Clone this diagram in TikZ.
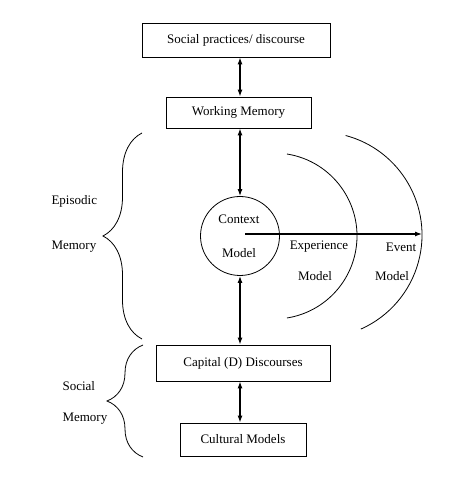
\documentclass[tikz,border=0pt]{standalone}
\usepackage{fontspec}
\setmainfont{Liberation Serif}
\usetikzlibrary{arrows.meta, decorations.pathreplacing}

\begin{document}
\begin{tikzpicture}[x=1pt, y=1pt, font=\fontsize{13}{15}\selectfont,
    boxnode/.style={draw, line width=0.8pt, inner sep=0pt},
    dbl/.style={{Latex[length=7pt,width=5pt]}-{Latex[length=7pt,width=5pt]}, line width=1.2pt},
    bracenode/.style={decorate, decoration={brace, amplitude=#1}, line width=0.8pt}]
  \useasboundingbox (0,0) rectangle (474,478);
  % Boxes and the context model
  \node[boxnode, minimum width=188pt, minimum height=34pt] (sp) at (236,438) {Social practices/ discourse};
  \node[boxnode, minimum width=145pt, minimum height=31pt] (wm) at (238.5,365.5) {Working Memory};
  \node[draw, circle, line width=0.8pt, minimum size=79pt] (ctx) at (240,242) {};
  \node (ctxa) at (239,259) {Context};
  \node (ctxb) at (239,225) {Model};
  \node[boxnode, minimum width=174pt, minimum height=36pt] (cd) at (243,115) {Capital (D) Discourses};
  \node[boxnode, minimum width=126pt, minimum height=33pt] (cm) at (243,38.5) {Cultural Models};
  % Vertical double arrows
  \foreach \a/\b in {sp/wm, wm/ctx, ctx/cd, cd/cm}{
    \draw[dbl] (\a.south -| ctx.center) -- (\b.north -| ctx.center);
  }
  % Arcs and the horizontal arrow
  \draw[line width=0.8pt] (274,242) ++(81:83) arc[start angle=81, end angle=-81, radius=83];
  \draw[line width=0.8pt] (319,243) ++(75:103) arc[start angle=75, end angle=-66, radius=103];
  \coordinate (evtend) at (422,244);
  \draw[-{Latex[length=7pt,width=5pt]}, line width=1.2pt] (245,244) -- (evtend);
  \node (expa) at (319,231) {Experience};
  \node (expb) at (315,202) {Model};
  \node (evta) at (401,231) {Event};
  \node (evtb) at (392,202) {Model};
  % Braces on the left
  \draw[bracenode=39pt] (142,139) -- (142,345);
  \node[anchor=west] (epa) at (48,277) {Episodic};
  \node[anchor=west] (epb) at (48,231) {Memory};
  \draw[bracenode=36pt] (143,21) -- (143,133);
  \node[anchor=west] (soa) at (59,92) {Social};
  \node[anchor=west] (sob) at (59,59) {Memory};
\end{tikzpicture}
\end{document}
